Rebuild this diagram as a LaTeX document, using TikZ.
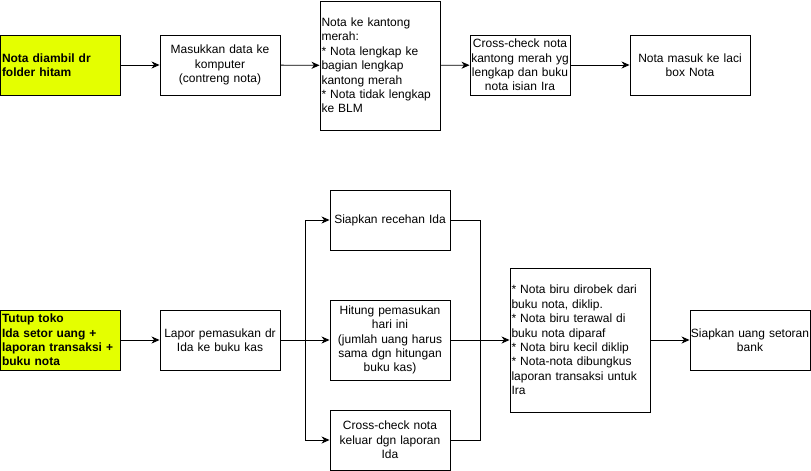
\documentclass[tikz,border=0pt]{standalone}
\usepackage{fontspec}
\setmainfont{Liberation Sans}
\usetikzlibrary{arrows.meta}
\definecolor{hl}{RGB}{228,255,0}
\tikzset{
  box/.style={draw=black, line width=0.9pt, rectangle, inner sep=1pt, align=center,
    font=\fontsize{12}{14.4}\selectfont},
  lbox/.style={box, align=left},
  yel/.style={box, fill=hl, align=left, font=\fontsize{12}{14.4}\selectfont\bfseries},
  conn/.style={line width=0.9pt, -{Stealth[length=8pt,width=7pt,inset=2.5pt]}},
}
\begin{document}
\begin{tikzpicture}[x=1pt,y=-1pt]
\useasboundingbox (0,0) rectangle (811,471);
% top row
\node[yel, minimum width=120, minimum height=60, text width=117] (a) at (60.5,65) {Nota diambil dr\\folder hitam};
\node[box, minimum width=120, minimum height=60, text width=116] (b) at (220,65) {Masukkan data ke\\komputer\\(contreng nota)};
\node[lbox, minimum width=120, minimum height=129, text width=117] (c) at (380,65.5) {Nota ke kantong\\merah:\\\relax* Nota lengkap ke\\bagian lengkap\\kantong merah\\\relax* Nota tidak lengkap\\ke BLM};
\node[box, minimum width=100, minimum height=60, text width=98] (d) at (520,65) {Cross-check nota\\kantong merah yg\\lengkap dan buku\\nota isian Ira};
\node[box, minimum width=120, minimum height=60, text width=116] (e) at (690,65) {Nota masuk ke laci\\box Nota};
\draw[conn] (a) -- (b);
\draw[conn] (b) -- (c);
\draw[conn] (c) -- (d);
\draw[conn] (d) -- (e);
% bottom row
\node[yel, minimum width=120, minimum height=60, text width=117] (f) at (60.5,340) {Tutup toko\\Ida setor uang +\\laporan transaksi +\\buku nota};
\node[box, minimum width=120, minimum height=60, text width=116] (g) at (220,340) {Lapor pemasukan dr\\Ida ke buku kas};
\node[box, minimum width=120, minimum height=60, text width=116] (h) at (390,220) {Siapkan recehan Ida};
\node[box, minimum width=120, minimum height=80, text width=116] (i) at (390,340) {Hitung pemasukan\\hari ini\\(jumlah uang harus\\sama dgn hitungan\\buku kas)};
\node[box, minimum width=120, minimum height=60, text width=116] (j) at (390,440) {Cross-check nota\\keluar dgn laporan\\Ida};
\node[lbox, minimum width=140, minimum height=144, text width=137] (k) at (580,340) {* Nota biru dirobek dari\\buku nota, diklip.\\\relax* Nota biru terawal di\\buku nota diparaf\\\relax* Nota biru kecil diklip\\\relax* Nota-nota dibungkus\\laporan transaksi untuk\\Ira};
\node[box, minimum width=120, minimum height=60, text width=116] (l) at (750,340) {\makebox[0pt]{Siapkan uang setoran}\\bank};
\coordinate (br) at (305.5,340);
\coordinate (mg) at (480.5,340);
\draw[conn] (f) -- (g);
\draw[conn] (g.east) -- (br) |- (h.west);
\draw[conn] (g) -- (i);
\draw[conn] (br) |- (j.west);
\draw[line width=0.9pt] (h.east) -| (mg);
\draw[line width=0.9pt] (j.east) -| (mg);
\draw[conn] (i) -- (k);
\draw[conn] (k) -- (l);
\end{tikzpicture}
\end{document}
